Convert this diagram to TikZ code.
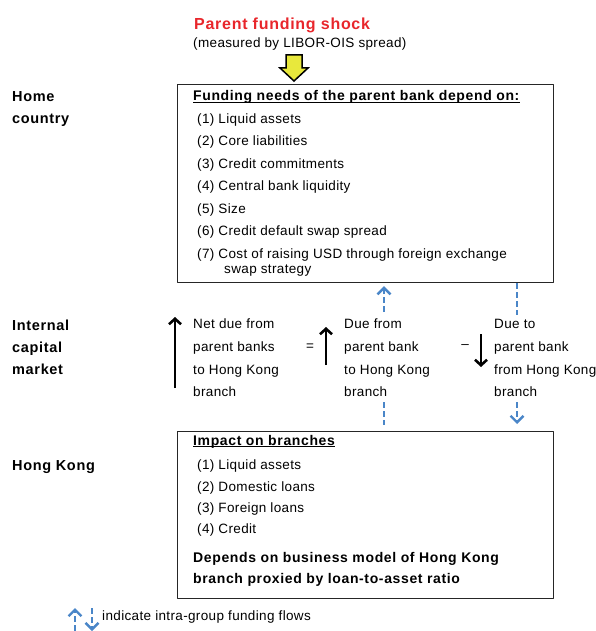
\documentclass[tikz,border=0pt]{standalone}
\usepackage{fontspec}
\setmainfont{Liberation Sans}[LetterSpace=2.6,BoldFeatures={LetterSpace=4.5}]
\usetikzlibrary{arrows.meta}

\definecolor{shockred}{HTML}{E8262B}
\definecolor{flowblue}{HTML}{4A86C8}
\definecolor{shockyellow}{HTML}{E8E83C}

\begin{document}
\begin{tikzpicture}[
  x=1pt, y=-1pt,
  line join=round,
  every node/.style={font=\fontsize{13.5}{15}\selectfont, inner sep=0pt, anchor=base west},
  panel/.style={draw=black!85, line width=1.2pt, anchor=north west, minimum width=376pt},
  heading/.style={font=\fontsize{14}{16}\selectfont\bfseries},
  region/.style={font=\fontsize{14.5}{16}\selectfont\bfseries},
  netarrow/.style={line width=2.6pt, -{Straight Barb[length=5.5pt,width=12pt]}},
  flow/.style={draw=flowblue, line width=2.4pt, dash pattern=on 6pt off 3pt},
  flowtip/.style={-{Straight Barb[length=6.5pt,width=13pt]}}
]
  \useasboundingbox (0,0) rectangle (596,631);

  % Schock oben
  \node[font=\fontsize{16}{19}\selectfont\bfseries, text=shockred] (shock) at (194,30)
    {Parent funding shock};
  \node (measured) at (193,48) {(measured by LIBOR-OIS spread)};

  % Gelber Blockpfeil
  \draw[fill=shockyellow, line width=1.5pt, line join=miter]
    (286,55)--(302,55)--(302,68)--(308,68)--(294,81)--(280,68)--(286,68)--cycle;

  % Ebenen links
  \node[region] (home)     at (12,102) {Home};
  \node[region] (country)  at (12,124) {country};
  \node[region] (internal) at (12,330) {Internal};
  \node[region] (capital)  at (12,352) {capital};
  \node[region] (market)   at (12,374) {market};
  \node[region] (hk)       at (12,470) {Hong Kong};

  % Kasten Mutterbank
  \node[panel, minimum height=198pt] (parent) at (177,84) {};
  \node[heading] (needs) at (193,101) {Funding needs of the parent bank depend on:};
  \draw[line width=1.3pt]
    ([yshift=-1.6pt]needs.base west) -- ([yshift=-1.6pt]needs.base east);
  \node (liquid)  at (197,123.5) {(1) Liquid assets};
  \node (core)    at (197,145.5) {(2) Core liabilities};
  \node (commit)  at (197,168.5) {(3) Credit commitments};
  \node (central) at (197,190.5) {(4) Central bank liquidity};
  \node (size)    at (197,213.5) {(5) Size};
  \node (cds)     at (197,235.5) {(6) Credit default swap spread};
  \node (usd)     at (197,258.5) {(7) Cost of raising USD through foreign exchange};
  \node (swap)    at (224,273.5) {swap strategy};

  % Interner Kapitalmarkt
  \coordinate (nettail) at (175,388);
  \coordinate (nethead) at (175,317);
  \draw[netarrow] (nettail) -- (nethead);
  \node (net1) at (193,328) {Net due from};
  \node (net2) at (193,351) {parent banks};
  \node (net3) at (193,374) {to Hong Kong};
  \node (net4) at (193,396) {branch};

  \node[anchor=center] (equals) at (310,347) {=};
  \coordinate (fromtail) at (326,365);
  \coordinate (fromhead) at (326,327);
  \draw[netarrow] (fromtail) -- (fromhead);
  \node (from1) at (344,328) {Due from};
  \node (from2) at (344,351) {parent bank};
  \node (from3) at (344,374) {to Hong Kong};
  \node (from4) at (344,396) {branch};

  \node[anchor=center] (minus) at (465,347) {–};
  \coordinate (totail) at (481,334);
  \coordinate (tohead) at (481,367);
  \draw[netarrow] (totail) -- (tohead);
  \node (to1) at (494,328) {Due to};
  \node (to2) at (494,351) {parent bank};
  \node (to3) at (494,374) {from Hong Kong};
  \node (to4) at (494,396) {branch};

  % Kasten Filialen
  \node[panel, minimum height=167pt] (branch) at (177,431) {};
  \node[heading] (impact) at (193,445) {Impact on branches};
  \draw[line width=1.3pt]
    ([yshift=-1.6pt]impact.base west) -- ([yshift=-1.6pt]impact.base east);
  \node (bliquid)  at (197,469.5) {(1) Liquid assets};
  \node (domestic) at (197,491.5) {(2) Domestic loans};
  \node (foreign)  at (197,512.5) {(3) Foreign loans};
  \node (credit)   at (197,533.5) {(4) Credit};
  \node[heading] (depends) at (193,562) {Depends on business model of Hong Kong};
  \node[heading] (proxied) at (193,583) {branch proxied by loan-to-asset ratio};

  % Konzerninterne Fluesse
  \coordinate (upflow) at (384,312);
  \draw[flow, flowtip, shorten >=3pt] (upflow) -- (parent.south -| upflow);
  \coordinate (downflow) at (517,315);
  \draw[flow] (parent.south -| downflow) -- (downflow);
  \coordinate (upfeed) at (384,402);
  \draw[flow, shorten >=6pt] (upfeed) -- (branch.north -| upfeed);
  \coordinate (downfeed) at (517,402);
  \draw[flow, flowtip, shorten >=7pt] (downfeed) -- (branch.north -| downfeed);

  % Legende
  \coordinate (legup) at (75,631);
  \coordinate (legdown) at (92,608);
  \draw[flow, flowtip] (legup) -- ++(0,-23);
  \draw[flow, flowtip] (legdown) -- ++(0,23);
  \node (legend) at (102,620) {indicate intra-group funding flows};
\end{tikzpicture}
\end{document}
